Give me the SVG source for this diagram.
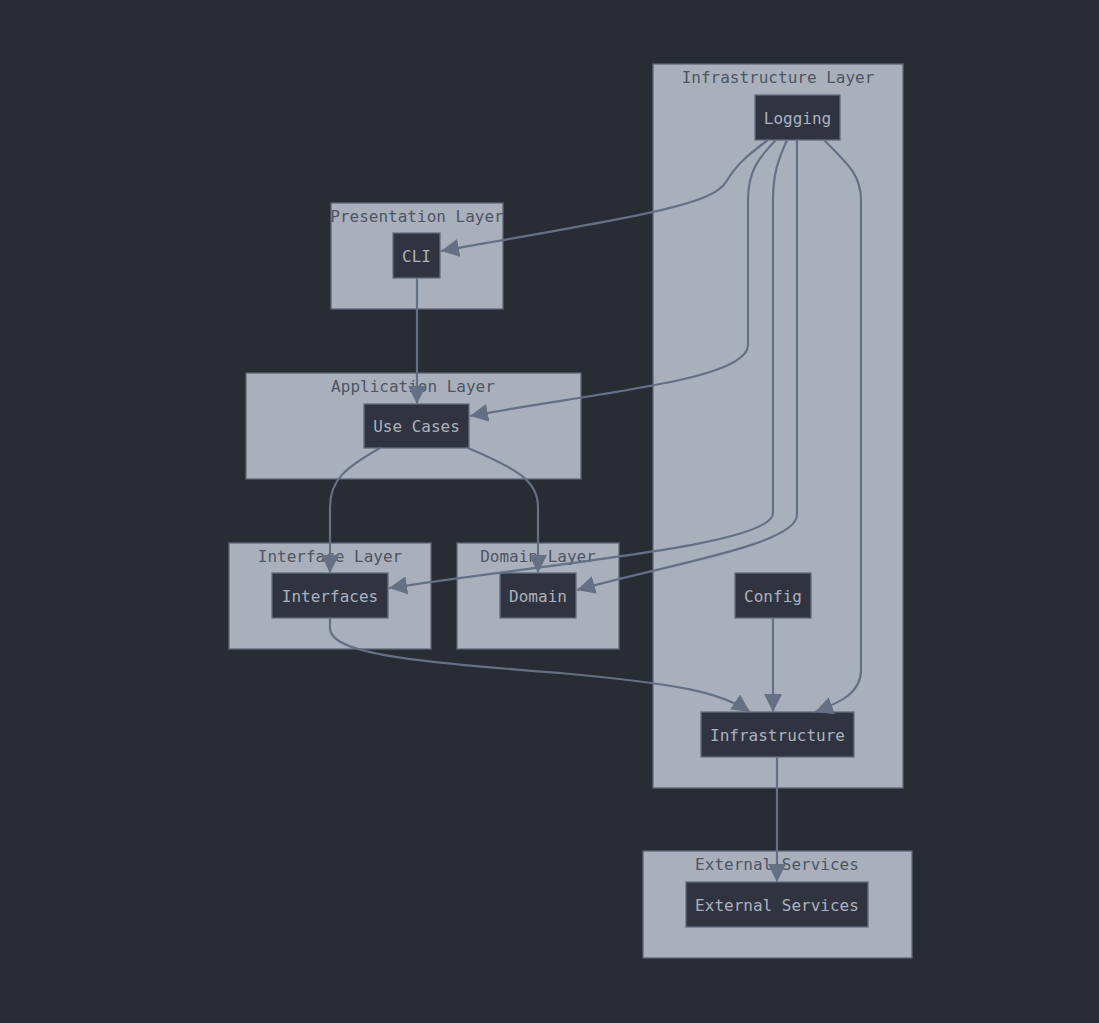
<svg xmlns="http://www.w3.org/2000/svg" width="1099" height="1023" viewBox="0 0 1099 1023">
<style>
.bg{fill:#282c34}
.cluster rect{fill:#a9b0bc;stroke:#5f6676;stroke-width:1.3}
.cluster text{fill:#4e5563;font-family:"DejaVu Sans Mono",monospace;font-size:16px;text-anchor:middle}
.node rect{fill:#303440;stroke:#656d7e;stroke-width:1.3}
.node text{fill:#abb2bf;font-family:"DejaVu Sans Mono",monospace;font-size:16px;text-anchor:middle;dominant-baseline:central}
.edges path{fill:none;stroke:#667085;stroke-width:2.2}
</style>
<defs>
<marker id="arr" viewBox="0 0 10 10" refX="10" refY="5" markerWidth="18" markerHeight="18" markerUnits="userSpaceOnUse" orient="auto">
<path d="M0,0 L10,5 L0,10 z" fill="#667085"/>
</marker>
</defs>
<rect class="bg" x="0" y="0" width="1099" height="1023"/>
<g id="clusters">
<g id="cl-infra" class="cluster"><rect x="653" y="64" width="250" height="724"/><text x="778" y="83">Infrastructure Layer</text></g>
<g id="cl-pres" class="cluster"><rect x="331" y="203" width="172" height="106"/><text x="417" y="222">Presentation Layer</text></g>
<g id="cl-app" class="cluster"><rect x="246" y="373" width="335" height="106"/><text x="413" y="392">Application Layer</text></g>
<g id="cl-iface" class="cluster"><rect x="229" y="543" width="202" height="106"/><text x="330" y="562">Interface Layer</text></g>
<g id="cl-domain" class="cluster"><rect x="457" y="543" width="162" height="106"/><text x="538" y="562">Domain Layer</text></g>
<g id="cl-ext" class="cluster"><rect x="643" y="851" width="269" height="107"/><text x="777" y="870">External Services</text></g>
</g>
<g id="Logging" class="node"><rect x="755" y="95" width="85" height="45"/><text x="797.5" y="118">Logging</text></g>
<g id="CLI" class="node"><rect x="393" y="233" width="47" height="45"/><text x="416.5" y="256">CLI</text></g>
<g id="UseCases" class="node"><rect x="364" y="404" width="105" height="44"/><text x="416.5" y="426">Use Cases</text></g>
<g id="Interfaces" class="node"><rect x="272" y="573" width="116" height="45"/><text x="330" y="596">Interfaces</text></g>
<g id="Domain" class="node"><rect x="500" y="573" width="76" height="45"/><text x="538" y="596">Domain</text></g>
<g id="Config" class="node"><rect x="735" y="573" width="76" height="45"/><text x="773" y="596">Config</text></g>
<g id="Infrastructure" class="node"><rect x="701" y="712" width="153" height="45"/><text x="777.5" y="735">Infrastructure</text></g>
<g id="ExternalServices" class="node"><rect x="686" y="882" width="182" height="45"/><text x="777" y="905">External Services</text></g>
<g id="connectors" class="edges">
<path d="M768,140 C752,152 738,162 726,182 C712,205 640,216 441,251" marker-end="url(#arr)"/>
<path d="M776,140 C758,158 748,172 748,200 L748,345 C748,380 600,392 470,416" marker-end="url(#arr)"/>
<path d="M787,140 C778,160 773,174 773,200 L773,513 C773,545 560,562 389,588" marker-end="url(#arr)"/>
<path d="M797,140 L797,515 C797,545 660,566 577,590" marker-end="url(#arr)"/>
<path d="M824,140 C848,164 861,175 861,200 L861,670 C861,692 842,702 815,712" marker-end="url(#arr)"/>
<path d="M417,278 L417,404" marker-end="url(#arr)"/>
<path d="M380,448 C345,468 330,480 330,507 L330,573" marker-end="url(#arr)"/>
<path d="M468,448 C520,470 538,482 538,507 L538,573" marker-end="url(#arr)"/>
<path d="M330,618 L330,628 C330,655 420,662 560,673 C680,684 720,692 750,712" marker-end="url(#arr)"/>
<path d="M773,618 L773,712" marker-end="url(#arr)"/>
<path d="M777,757 L777,882" marker-end="url(#arr)"/>
</g>
</svg>
